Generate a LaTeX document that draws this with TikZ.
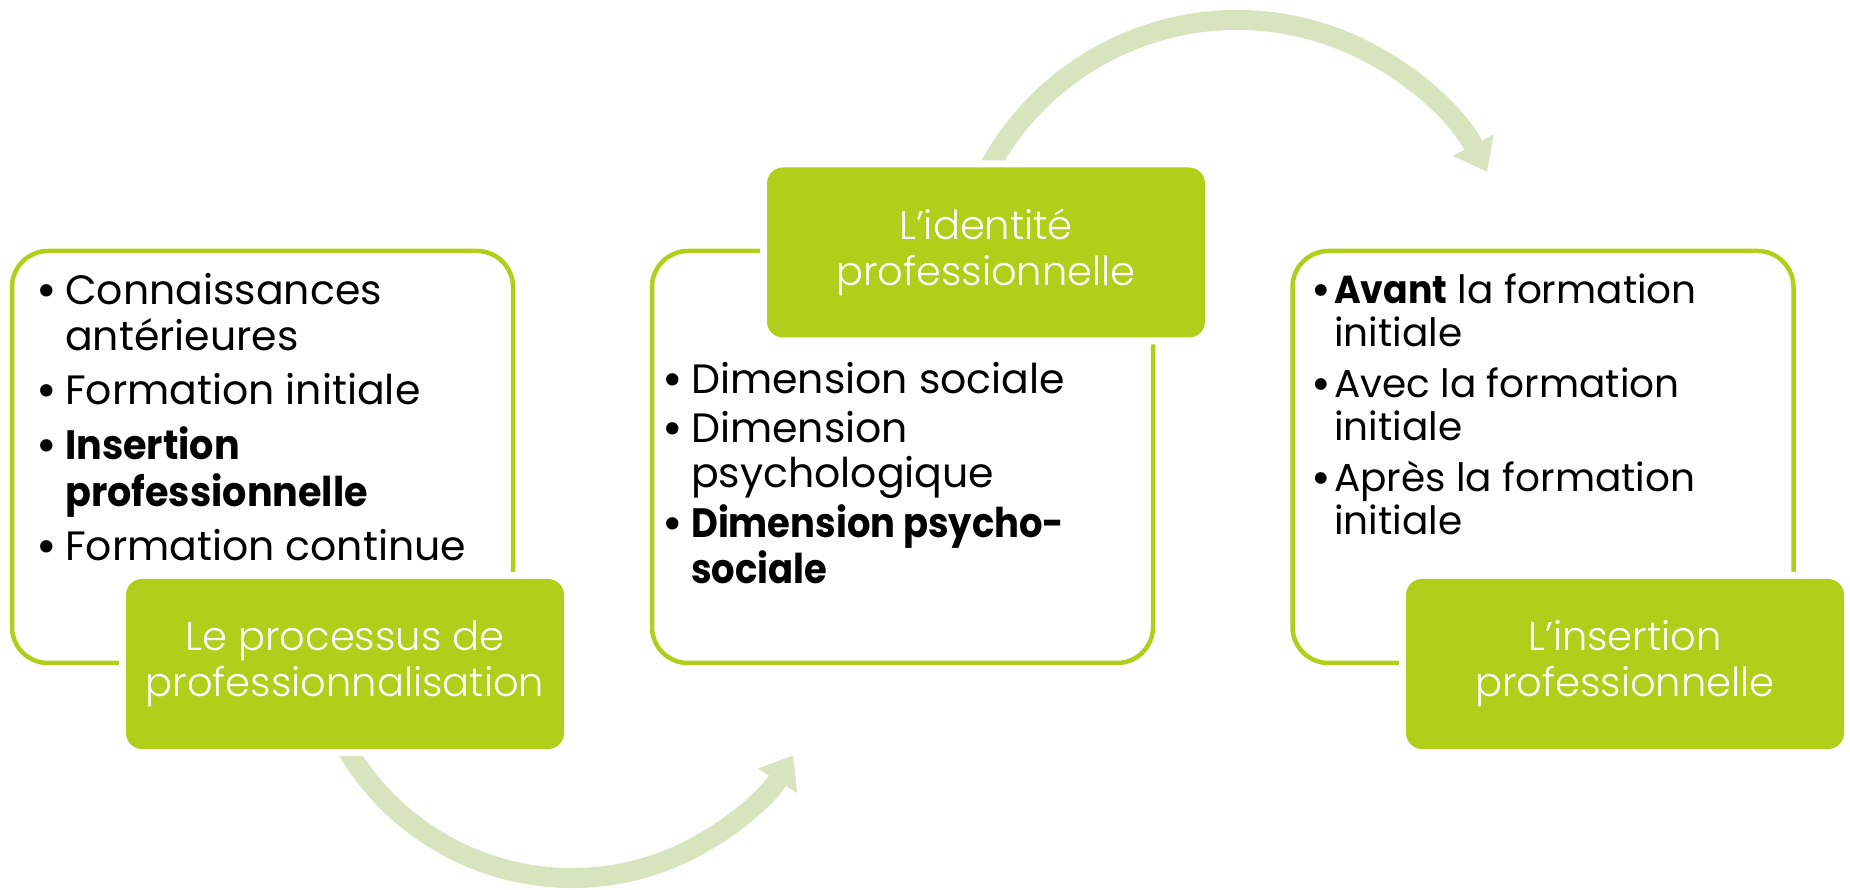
\documentclass[tikz,border=0pt]{standalone}
\usepackage{fontspec}
\usepackage{graphicx}
\setmainfont{Poppins}
\newfontfamily\lightfont{Poppins Light}
\usetikzlibrary{arrows.meta}
\definecolor{lime}{RGB}{175,207,27}
\definecolor{pale}{RGB}{215,228,189}
\newcommand\bul{\hspace*{2pt}\textbf{\textbullet}}
\newcommand\bt[2][0.93]{\scalebox{#1}[1]{\textbf{#2}}}
\begin{document}
\begin{tikzpicture}[x=1pt,y=1pt,
  frame/.style={draw=lime, line width=4.5pt, rounded corners=36pt, minimum width=501pt, minimum height=412pt, inner sep=0pt},
  title/.style={fill=lime, text=white, rounded corners=16pt, minimum width=438pt, minimum height=170pt, inner sep=0pt, align=center, font=\lightfont\fontsize{40}{46}\selectfont, preaction={draw=white, line width=14pt}},
  list/.style={anchor=base west, inner sep=0pt, font=\fontsize{41}{46}\selectfont},
  flow/.style={draw=pale, line width=20pt, -{Triangle[width=44pt,length=30pt]}}
]
\useasboundingbox (0,0) rectangle (1850,889);
\coordinate (c1) at (572,272);
\coordinate (c2) at (1237,587);
\draw[flow] ([shift={(205:261pt)}]c1) arc[start angle=205, end angle=328, radius=261pt];
\draw[flow] ([shift={(158:282pt)}]c2) arc[start angle=158, end angle=27.5, radius=282pt];

\node[frame] (f1) at (262.5,432) {};
\node[frame] (f2) at (902.5,432) {};
\node[frame] (f3) at (1543,432) {};

\node[title] (t1) at (345,225) {Le processus de\\professionnalisation};
\node[title] (t2) at (986,636.5) {L’identité\\professionnelle};
\node[title] (t3) at (1625,225) {L’insertion\\professionnelle};

\node[list] (l1) at (34,584) {\begin{tabular}[t]{@{}l@{}l@{}}
\makebox[31pt][l]{\bul} & Connaissances\\
 & antérieures\\[8pt]
\bul & Formation initiale\\[8pt]
\bul & \bt{Insertion}\\
 & \bt{professionnelle}\\[8pt]
\bul & Formation continue
\end{tabular}};

\node[list, font=\fontsize{41}{45.5}\selectfont] (l2) at (660,495) {\begin{tabular}[t]{@{}l@{}l@{}}
\makebox[31pt][l]{\bul} & Dimension sociale\\[3pt]
\bul & Dimension\\
 & psychologique\\[3pt]
\bul & \bt[0.9]{Dimension psycho-}\\
 & \bt[0.9]{sociale}
\end{tabular}};

\node[list, font=\fontsize{39}{42.5}\selectfont] (l3) at (1309,585) {\begin{tabular}[t]{@{}l@{}l@{}}
\makebox[25pt][l]{\bul} & \bt{Avant} la formation\\
 & initiale\\[8.5pt]
\bul & Avec la formation\\
 & initiale\\[8.5pt]
\bul & Après la formation\\
 & initiale
\end{tabular}};
\end{tikzpicture}
\end{document}
